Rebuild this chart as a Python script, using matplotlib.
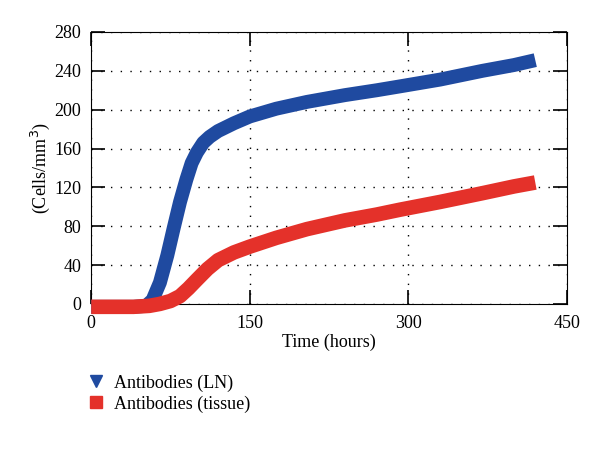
import matplotlib.pyplot as plt
from matplotlib.lines import Line2D

# values
time_ln = [0, 20, 40, 52, 58, 65, 72, 78, 84, 90, 95, 100, 106, 112, 120, 135, 150, 175, 204, 240, 270, 292, 330, 370, 400, 420]
ab_ln = [-3, -3, -3, -2, 4, 22, 50, 78, 105, 128, 145, 156, 166, 172, 178, 186, 193, 201, 208, 215, 220, 224, 231, 240, 246, 251]

time_tissue = [0, 20, 40, 55, 65, 75, 84, 92, 100, 110, 120, 135, 150, 175, 204, 240, 270, 292, 330, 370, 400, 420]
ab_tissue = [-3, -3, -3, -2, 0, 3, 8, 16, 25, 36, 45, 53, 59, 68, 77, 86, 92, 97, 105, 114, 121, 125]

labels = ['Antibodies (LN)', 'Antibodies (tissue)']

plt.rcParams['font.family'] = ['Liberation Serif', 'DejaVu Serif']

fig = plt.figure(figsize=(6, 4.57), dpi=100)
ax = fig.add_axes([0.152, 0.335, 0.793, 0.595])

blue = '#1f4aa0'
red = '#e4312a'

# the curves are drawn as dense marker bands in the original, so use thick lines
ax.plot(time_ln, ab_ln, color=blue, lw=10, solid_capstyle='butt',
        solid_joinstyle='round', clip_on=False, zorder=3)
ax.plot(time_tissue, ab_tissue, color=red, lw=10.5, solid_capstyle='butt',
        solid_joinstyle='round', clip_on=False, zorder=4)

ax.set_xlim(0, 450)
ax.set_ylim(0, 280)
ax.set_xticks([0, 150, 300, 450])
ax.set_yticks(range(0, 281, 40))
ax.tick_params(direction='in', length=10, width=1.2, top=True, right=True, labelsize=13)
ax.tick_params(axis='x', pad=8)
ax.tick_params(axis='y', pad=7)
ax.grid(True, color='black', linestyle=(0, (1, 6)), linewidth=1)

ax.set_xlabel('Time (hours)', fontsize=13, labelpad=1)
ax.set_ylabel('(Cells/mm$^3$)', fontsize=13, labelpad=2)

handles = [Line2D([], [], color=blue, marker='v', ls='none', ms=9),
           Line2D([], [], color=red, marker='s', ls='none', ms=8)]
ax.legend(handles, labels, loc='upper left', bbox_to_anchor=(-0.04, -0.2), frameon=False,
          fontsize=13, handlelength=0.8, handletextpad=0.6, labelspacing=0.2)

fig.savefig('out.png', dpi=100)
